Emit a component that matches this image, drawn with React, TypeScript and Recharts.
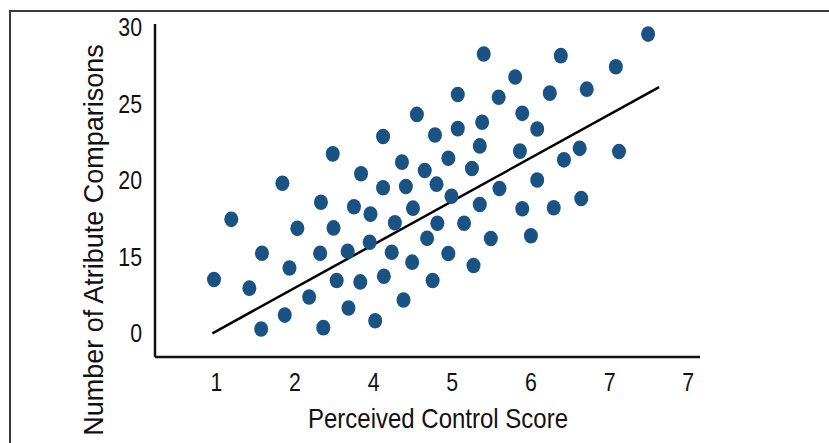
import { ScatterChart, Scatter, XAxis, YAxis, ReferenceLine, Label } from "recharts";

// perceived control score (x) vs attribute comparisons (y)
const scoreX = [
    0.97, 1.19, 1.42, 1.58, 1.57, 1.84, 1.87, 1.93, 2.03, 2.18, 2.33, 2.32,
    2.36, 2.48, 2.49, 2.53, 2.68, 2.75, 2.84, 2.83, 2.96, 3.02, 2.95, 2.67,
    3.12, 3.12, 3.13, 3.23, 3.27, 3.36, 3.38, 3.41, 3.49, 3.5, 3.55, 3.65,
    3.68, 3.75, 3.78, 3.8, 3.81, 3.95, 3.99, 3.95, 4.07, 4.07, 4.15, 4.25,
    4.27, 4.35, 4.35, 4.38, 4.4, 4.49, 4.59, 4.6, 4.8, 4.89, 4.86, 4.89,
    5.0, 5.08, 5.08, 5.24, 5.29, 5.38, 5.42, 5.62, 5.64, 5.71, 6.08, 6.12,
    6.49
];
const comparisonsY = [
    13.5, 17.43, 12.93, 15.21, 10.26, 19.79, 11.17, 14.25, 16.84, 12.35, 18.55, 15.21,
    10.35, 21.71, 16.87, 13.43, 11.63, 18.25, 20.41, 13.34, 17.77, 10.8, 15.93, 15.34,
    22.85, 19.49, 13.71, 15.28, 17.21, 21.17, 12.16, 19.58, 14.63, 18.16, 24.29, 20.62,
    16.19, 13.43, 22.94, 19.73, 17.17, 21.42, 18.94, 15.2, 23.36, 25.59, 17.17, 20.75,
    14.41, 18.4, 22.23, 23.78, 28.24, 16.18, 25.41, 19.45, 26.74, 24.36, 21.89, 18.12,
    16.36, 23.34, 20.0, 25.68, 18.19, 28.13, 21.32, 22.07, 18.79, 25.94, 27.41, 21.86,
    29.54
];

// fitted line end points
const trendX = [0.95, 6.63];
const trendY = [9.98, 26.07];

// tick positions and the labels printed on them (as in the original figure)
const xTicks = [1, 2, 3, 4, 5, 6, 7];
const xTickLabels = ["1", "2", "4", "5", "6", "7", "7"];
const yTicks = [10, 15, 20, 25, 30];
const yTickLabels = ["0", "15", "20", "25", "30"];

const points = scoreX.map((x, i) => ({ x, y: comparisonsY[i] }));

const font = "'Liberation Sans', Arial, Helvetica, sans-serif";
const dotColor = "#1a5284";
const ink = "#111";

const Dot = (props: any) => {
    const { cx, cy } = props;
    if (cx == null || cy == null) return null;
    return <ellipse cx={cx} cy={cy} rx={7} ry={7.8} fill={dotColor} />;
};

// narrow helvetica look: squeeze the glyphs horizontally
const XTick = (props: any) => {
    const { x, y, payload } = props;
    const label = xTickLabels[xTicks.indexOf(payload.value)] ?? "";
    return (
        <g transform={`translate(${x},${y}) scale(0.82,1)`}>
            <text x={0} y={0} dy={18} textAnchor="middle" fill={ink} fontSize={26} fontFamily={font}>
                {label}
            </text>
        </g>
    );
};

const YTick = (props: any) => {
    const { x, y, payload } = props;
    const label = yTickLabels[yTicks.indexOf(payload.value)] ?? "";
    return (
        <g transform={`translate(${x},${y}) scale(0.82,1)`}>
            <text x={0} y={0} dy={9.3} textAnchor="end" fill={ink} fontSize={26} fontFamily={font}>
                {label}
            </text>
        </g>
    );
};

export default function App() {
    return (
        <div style={{ position: "fixed", left: 0, top: 0, width: 829, height: 443, background: "#fff", overflow: "hidden" }}>
            <div
                style={{
                    position: "absolute",
                    left: 9,
                    top: 10,
                    width: 840,
                    height: 450,
                    borderTop: "2px solid #3a3a3a",
                    borderLeft: "2px solid #3a3a3a",
                    boxSizing: "border-box",
                }}
            />
            <ScatterChart
                width={829}
                height={443}
                margin={{ top: 24, right: 129, left: 0, bottom: 26 }}
                style={{ position: "absolute", left: 0, top: 0 }}
            >
                <XAxis
                    type="number"
                    dataKey="x"
                    domain={[0.22, 7.15]}
                    ticks={xTicks}
                    allowDataOverflow
                    tickLine={false}
                    tickMargin={10}
                    height={60}
                    axisLine={{ stroke: ink, strokeWidth: 2.5 }}
                    tick={XTick}
                >
                    <Label
                        content={() => (
                            <text
                                x={308}
                                y={428}
                                textLength={260}
                                lengthAdjust="spacingAndGlyphs"
                                fill={ink}
                                fontSize={28}
                                fontFamily={font}
                            >
                                Perceived Control Score
                            </text>
                        )}
                    />
                </XAxis>
                <YAxis
                    type="number"
                    dataKey="y"
                    domain={[8.43, 30.2]}
                    ticks={yTicks}
                    allowDataOverflow
                    tickLine={false}
                    tickMargin={7}
                    width={155}
                    axisLine={{ stroke: ink, strokeWidth: 2.5 }}
                    tick={YTick}
                >
                    <Label
                        content={() => (
                            <text
                                transform="translate(103,240) rotate(-90)"
                                textAnchor="middle"
                                fill={ink}
                                fontSize={27}
                                fontFamily={font}
                            >
                                Number of Atribute Comparisons
                            </text>
                        )}
                    />
                </YAxis>
                <ReferenceLine
                    segment={[
                        { x: trendX[0], y: trendY[0] },
                        { x: trendX[1], y: trendY[1] },
                    ]}
                    stroke="#000"
                    strokeWidth={2.5}
                    ifOverflow="visible"
                />
                <Scatter data={points} shape={Dot} isAnimationActive={false} />
            </ScatterChart>
        </div>
    );
}
